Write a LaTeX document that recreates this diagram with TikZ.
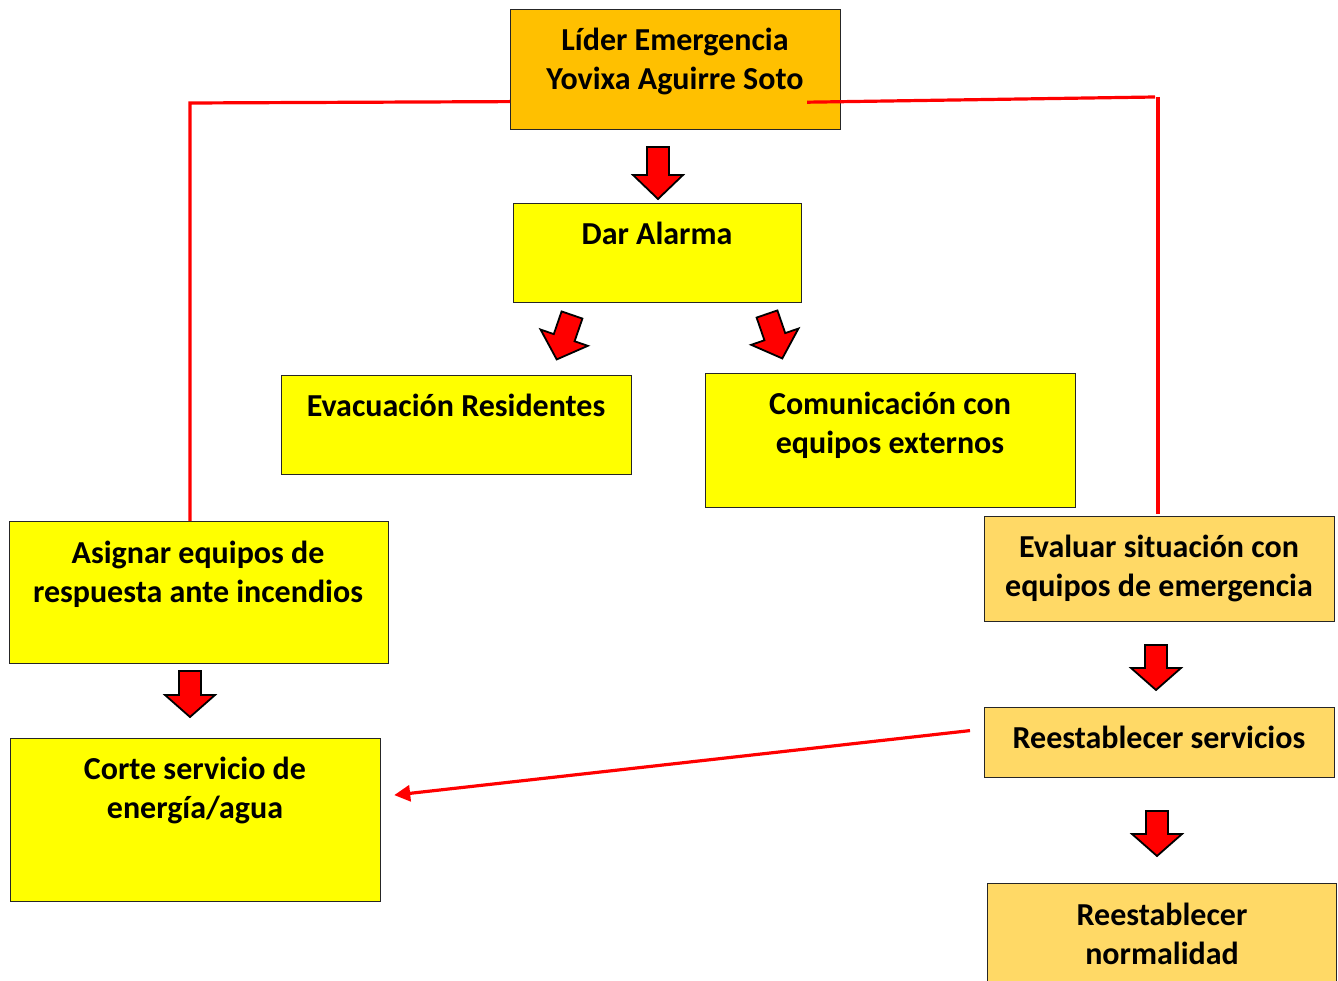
\documentclass[tikz,border=0pt]{standalone}
\usepackage{fontspec}
\setmainfont{Carlito}
\usetikzlibrary{calc,arrows.meta}
\definecolor{gold}{HTML}{FFC000}
\definecolor{yel}{HTML}{FFFF00}
\definecolor{lgold}{HTML}{FFD966}
\definecolor{redl}{HTML}{FF0000}
\tikzset{
 box/.style={draw=black!85, line width=1.2pt, anchor=north west, inner sep=0pt},
 txt/.style={font=\fontsize{32}{39}\selectfont\bfseries, align=center, anchor=north, inner sep=0pt},
 link/.style={draw=redl, line width=3.2pt},
 barrow/.style={fill=redl, draw=black, line width=1.8pt, line join=miter},
}
\newcommand\blockarr[5]{%
 \begin{scope}[shift={(#1,#2)}, rotate=#3]
 \draw[barrow] (-11,0) -- (11,0) -- (11,#5) -- (25,#5) -- (0,#4) -- (-25,#5) -- (-11,#5) -- cycle;
 \end{scope}}
\begin{document}
\begin{tikzpicture}[x=1pt,y=-1pt]
\useasboundingbox (0,0) rectangle (1338,981);
% boxes
\node[box, fill=gold, minimum width=330, minimum height=120] (lider) at (510,9) {};
\node[box, fill=yel, minimum width=288, minimum height=99] (dar) at (513,203) {};
\node[box, fill=yel, minimum width=350, minimum height=99] (evac) at (281,375) {};
\node[box, fill=yel, minimum width=370, minimum height=134] (comu) at (705,373) {};
\node[box, fill=yel, minimum width=379, minimum height=142] (asig) at (9,521) {};
\node[box, fill=yel, minimum width=370, minimum height=163] (corte) at (10,738) {};
\node[box, fill=lgold, minimum width=350, minimum height=105] (eval) at (984,516) {};
\node[box, fill=lgold, minimum width=350, minimum height=70] (serv) at (984,707) {};
\node[box, fill=lgold, minimum width=349, minimum height=130] (norm) at (987,883) {};
% texts
\node[txt] (lidert) at (675,23) {\strut Líder Emergencia\\Yovixa Aguirre Soto};
\node[txt] (dart) at (657,217) {\strut Dar Alarma};
\node[txt] (evact) at (456,389) {\strut Evacuación Residentes};
\node[txt] (comut) at (890,387) {\strut Comunicación con\\equipos externos};
\node[txt] (asigt) at (198,536) {\strut Asignar equipos de\\respuesta ante incendios};
\node[txt] (cortet) at (195,752) {\strut Corte servicio de\\energía/agua};
\node[txt] (evalt) at (1159,530) {\strut Evaluar situación con\\equipos de emergencia};
\node[txt] (servt) at (1159,721) {\strut Reestablecer servicios};
\node[txt] (normt) at (1162,898) {\strut Reestablecer\\normalidad};
% red connectors
\draw[link] ($(lider.west)+(0,32)$) -- (190,103) -- ($(asig.north west)+(181,0)$);
\draw[link] ($(lider.south east)+(-34,-28)$) -- (1155,97);
\draw[link] (1158,97) -- ($(eval.north west)+(174,-2)$);
\draw[link, -{Triangle[length=16pt,width=16pt]}] ($(serv.west)+(-14,-12)$) -- ($(corte.east)+(13,-25)$);
% block arrows
\blockarr{658}{147}{0}{52}{28}
\blockarr{572}{315}{-19}{47}{24}
\blockarr{767}{314}{19}{47}{24}
\blockarr{190}{671}{0}{46}{24}
\blockarr{1156}{645}{0}{45}{23}
\blockarr{1157}{811}{0}{45}{23}
\end{tikzpicture}
\end{document}
